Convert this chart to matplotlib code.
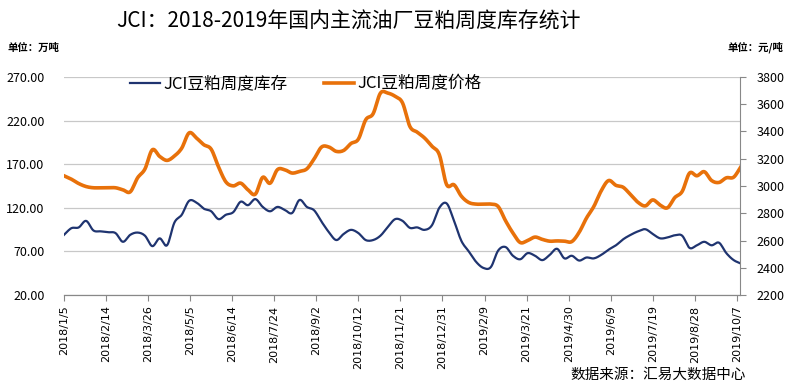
"""
JCI 豆粕周度库存 / 价格 双轴图
"""
import numpy as np
import pandas as pd
import matplotlib
matplotlib.use('Agg')
import matplotlib.pyplot as plt
import matplotlib.dates as mdates

plt.rcParams['font.family'] = ['Noto Sans CJK SC', 'DejaVu Sans']

# 周度数据 (2018/1/5 起, 每周一个点)
start_date = '2018-01-05'
inventory = [89, 96.6, 97.5, 105, 94, 93, 92, 91, 81, 89,
             91.6, 88, 76, 85, 77, 103, 112, 128, 126, 119,
             116, 107, 112, 115, 127, 123, 130, 121, 116, 121,
             117.6, 114, 129, 121, 117, 104, 92, 83, 90, 94.7,
             91, 83, 83, 88, 98, 107, 105, 97, 97.5, 94.7,
             100, 120, 125, 105, 82, 70, 58, 51, 52, 71,
             75, 65, 61, 68, 65, 60, 66, 73, 62, 65,
             59.5, 63, 62, 66, 72, 77, 84, 89, 93, 95.4,
             90, 85, 86, 88.5, 88, 74, 77, 81, 77, 80,
             68, 60, 56]
price = [3075, 3050, 3018, 2996, 2987, 2987, 2987, 2987, 2972, 2957,
         3060, 3125, 3266, 3217, 3188, 3220, 3278, 3390, 3352, 3303,
         3270, 3140, 3030, 3001, 3021, 2972, 2940, 3064, 3020, 3120,
         3119, 3095, 3107, 3126, 3200, 3286, 3286, 3254, 3261, 3312,
         3344, 3486, 3530, 3682, 3682, 3658, 3610, 3437, 3395, 3352,
         3292, 3230, 3009, 3009, 2925, 2879, 2867, 2867, 2867, 2849,
         2745, 2655, 2585, 2600, 2625, 2608, 2595, 2597, 2595, 2592,
         2660, 2765, 2850, 2965, 3040, 3005, 2990, 2935, 2880, 2854,
         2898, 2860, 2840, 2915, 2960, 3095, 3075, 3105, 3040, 3026,
         3060, 3065, 3143]

dates = pd.date_range(start_date, periods=len(inventory), freq='7D')
tick_dates = pd.date_range(start_date, '2019-10-07', freq='40D')

blue = '#1f3470'
orange = '#e8710a'


def smooth(x, y, n=8):
    """Excel 风格的平滑线 (Catmull-Rom), 只用于画线"""
    x = np.asarray(x, float)
    y = np.asarray(y, float)
    px = np.concatenate([[2 * x[0] - x[1]], x, [2 * x[-1] - x[-2]]])
    py = np.concatenate([[2 * y[0] - y[1]], y, [2 * y[-1] - y[-2]]])
    t = np.linspace(0, 1, n, endpoint=False)
    xs, ys = [], []
    for i in range(1, len(px) - 2):
        for arr, out in ((px, xs), (py, ys)):
            p0, p1, p2, p3 = arr[i - 1], arr[i], arr[i + 1], arr[i + 2]
            out.extend(0.5 * (2 * p1 + (-p0 + p2) * t
                              + (2 * p0 - 5 * p1 + 4 * p2 - p3) * t ** 2
                              + (-p0 + 3 * p1 - 3 * p2 + p3) * t ** 3))
    xs.append(x[-1])
    ys.append(y[-1])
    return np.array(xs), np.array(ys)


xnum = mdates.date2num(dates)

fig = plt.figure(figsize=(7.91, 3.88), dpi=100)
ax = fig.add_axes([64 / 791, 1 - 295 / 388, 676 / 791, 218 / 388])
ax2 = ax.twinx()

sx, sy = smooth(xnum, inventory)
l1, = ax.plot(sx, sy, color=blue, lw=1.6, label='JCI豆粕周度库存')
sx, sy = smooth(xnum, price)
l2, = ax2.plot(sx, sy, color=orange, lw=2.6, label='JCI豆粕周度价格')

ax.set_ylim(20, 270)
ax.set_yticks(np.arange(20, 271, 50))
ax.set_yticklabels([f'{v:.2f}' for v in np.arange(20, 271, 50)])
ax2.set_ylim(2200, 3800)
ax2.set_yticks(np.arange(2200, 3801, 200))
ax.set_xlim(mdates.date2num(pd.Timestamp('2018-01-05')),
            mdates.date2num(pd.Timestamp('2019-10-10')))

ax.set_xticks(mdates.date2num(tick_dates))
ax.set_xticklabels([f'{d.year}/{d.month}/{d.day}' for d in tick_dates],
                   rotation=90, fontsize=8, family='DejaVu Sans')

ax.grid(axis='y', color='#c8c8c8', lw=0.9)
ax.set_axisbelow(True)
for a in (ax, ax2):
    a.spines['top'].set_visible(False)
    a.spines['left'].set_visible(False)
    a.spines['right'].set_visible(False)
    a.spines['bottom'].set_color('#888888')
ax2.spines['right'].set_visible(True)
ax2.spines['right'].set_color('#888888')

ax.tick_params(axis='y', length=0, labelsize=9, pad=14)
ax.tick_params(axis='x', color='#888888', length=4)
ax2.tick_params(axis='y', color='#888888', length=4, labelsize=9, pad=8)

ax.legend([l1, l2], [l1.get_label(), l2.get_label()], loc='upper left',
          bbox_to_anchor=(0.075, 1.075), ncol=2, frameon=False,
          fontsize=12, handlelength=1.8, columnspacing=2.2, handletextpad=0.2)

fig.text(0.44, 0.943, 'JCI：2018-2019年国内主流油厂豆粕周度库存统计',
         ha='center', va='center', fontsize=15)
fig.text(0.01, 0.877, '单位：万吨', fontsize=7.5, weight='bold', va='center')
fig.text(0.99, 0.877, '单位：元/吨', fontsize=7.5, weight='bold', va='center', ha='right')
fig.text(0.943, 0.033, '数据来源：汇易大数据中心', fontsize=10.5, ha='right', va='center')

fig.savefig('out.png', dpi=100)
